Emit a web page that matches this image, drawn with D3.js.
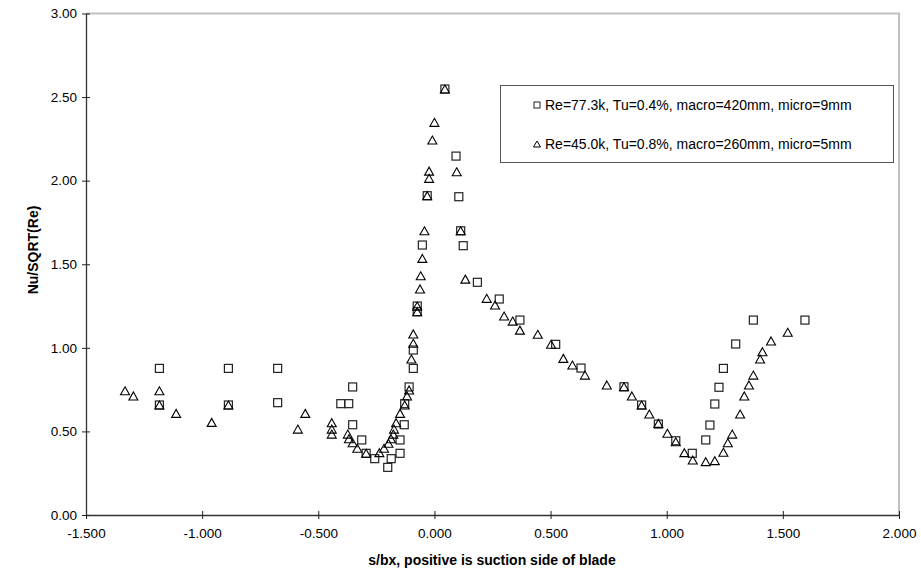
<!DOCTYPE html>
<html>
<head>
<meta charset="utf-8">
<script src="https://cdn.jsdelivr.net/npm/d3@7"></script>
<style>
  html, body { margin: 0; padding: 0; background: #fff; }
  svg { display: block; font-family: "Liberation Sans", Arial, sans-serif; }
</style>
</head>
<body>
<svg id="chart" width="921" height="572"></svg>
<script>
// ---- data ----
const xTicks = [-1.5, -1.0, -0.5, 0.0, 0.5, 1.0, 1.5, 2.0];
const yTicks = [0, 0.5, 1.0, 1.5, 2.0, 2.5, 3.0];
const seriesNames = [
  "Re=77.3k, Tu=0.4%, macro=420mm, micro=9mm",
  "Re=45.0k, Tu=0.8%, macro=260mm, micro=5mm"
];
// Re=77.3k (squares)
const squaresX = [-1.184,-1.184,-0.887,-0.887,-0.675,-0.675,-0.403,-0.369,-0.352,-0.352,-0.313,-0.294,-0.257,-0.201,-0.186,-0.148,-0.148,-0.130,-0.128,-0.109,-0.091,-0.091,-0.074,-0.074,-0.052,-0.031,0.045,0.093,0.105,0.113,0.124,0.185,0.279,0.368,0.522,0.631,0.816,0.892,0.964,1.039,1.110,1.168,1.186,1.207,1.225,1.244,1.297,1.373,1.595];
const squaresY = [0.877,0.658,0.877,0.658,0.877,0.672,0.666,0.666,0.766,0.540,0.449,0.369,0.337,0.285,0.337,0.369,0.449,0.540,0.666,0.766,0.877,0.987,1.250,1.216,1.615,1.910,2.548,2.147,1.904,1.700,1.611,1.392,1.292,1.166,1.021,0.879,0.767,0.658,0.544,0.444,0.369,0.449,0.538,0.664,0.764,0.877,1.023,1.166,1.166];
// Re=45.0k (triangles)
const trianglesX = [-1.332,-1.296,-1.184,-1.184,-1.112,-0.959,-0.887,-0.588,-0.556,-0.442,-0.442,-0.442,-0.373,-0.368,-0.352,-0.332,-0.294,-0.237,-0.217,-0.198,-0.187,-0.177,-0.174,-0.165,-0.148,-0.128,-0.118,-0.109,-0.099,-0.091,-0.091,-0.074,-0.074,-0.062,-0.059,-0.052,-0.043,-0.031,-0.023,-0.023,-0.009,0.000,0.045,0.096,0.113,0.133,0.225,0.261,0.300,0.337,0.368,0.445,0.502,0.555,0.594,0.648,0.742,0.816,0.850,0.892,0.925,0.964,1.003,1.039,1.076,1.112,1.168,1.207,1.244,1.263,1.282,1.316,1.334,1.354,1.373,1.402,1.412,1.449,1.521];
const trianglesY = [0.743,0.712,0.743,0.658,0.608,0.554,0.658,0.514,0.608,0.552,0.514,0.484,0.484,0.456,0.432,0.399,0.369,0.373,0.399,0.429,0.456,0.484,0.514,0.552,0.608,0.658,0.712,0.748,0.933,1.027,1.083,1.250,1.216,1.352,1.431,1.535,1.700,1.910,2.014,2.057,2.243,2.349,2.548,2.053,1.700,1.411,1.296,1.256,1.190,1.160,1.106,1.081,1.021,0.937,0.897,0.837,0.778,0.767,0.712,0.658,0.604,0.548,0.489,0.438,0.373,0.329,0.319,0.325,0.375,0.432,0.484,0.604,0.712,0.778,0.837,0.933,0.977,1.041,1.093];

// ---- layout ----
const svg = d3.select("#chart");
const L = 86, R = 899, T = 13.5, B = 515;
const x = d3.scaleLinear().domain([-1.5, 2.0]).range([L, R]);
const y = d3.scaleLinear().domain([0, 3.0]).range([B, T]);

svg.append("rect").attr("width", 921).attr("height", 572).attr("fill", "#fff");

// plot frame (top/right light grey)
svg.append("path")
  .attr("d", `M${L},${T}H${R}V${B}`)
  .attr("fill", "none").attr("stroke", "#c0c0c0").attr("stroke-width", 2);

// axes (hyphen-minus like the original)
const fx = v => d3.format(".3f")(v).replace("\u2212", "-");
const fy = v => d3.format(".2f")(v).replace("\u2212", "-");
const xAxis = d3.axisBottom(x).tickValues(xTicks).tickFormat(fx).tickSizeInner(4).tickSizeOuter(0);
const yAxis = d3.axisLeft(y).tickValues(yTicks).tickFormat(fy).tickSizeInner(4).tickSizeOuter(0);

const gx = svg.append("g").attr("transform", `translate(0,${B})`).call(xAxis);
const gy = svg.append("g").attr("transform", `translate(${L},0)`).call(yAxis);

[gx, gy].forEach(g => {
  g.select(".domain").attr("stroke", "#333").attr("stroke-width", 1.3);
  g.selectAll(".tick line").attr("stroke", "#222").attr("stroke-width", 1);
  g.selectAll(".tick text").attr("fill", "#000").style("font-size", "13.5px")
    .style("font-family", "'Liberation Sans', Arial, sans-serif");
});
// ticks cross the axis
gx.selectAll(".tick line").attr("y1", -4).attr("y2", 4);
gy.selectAll(".tick line").attr("x1", 4).attr("x2", -4);
gx.selectAll(".tick text").attr("y", 13);
gy.selectAll(".tick text").attr("x", -9);

// axis titles
svg.append("text")
  .attr("x", 492).attr("y", 565)
  .attr("text-anchor", "middle")
  .style("font-size", "14px").style("font-weight", "bold")
  .text("s/bx, positive is suction side of blade");
svg.append("text")
  .attr("transform", `translate(38,${250}) rotate(-90)`)
  .attr("text-anchor", "middle")
  .style("font-size", "14px").style("font-weight", "bold")
  .text("Nu/SQRT(Re)");

// symbols
const triPath = (cx, cy, w, h) =>
  `M${cx},${cy - h/2}L${cx + w/2},${cy + h/2}L${cx - w/2},${cy + h/2}Z`;

const squares = squaresX.map((v, i) => ({x: v, y: squaresY[i]}));
const triangles = trianglesX.map((v, i) => ({x: v, y: trianglesY[i]}));

svg.append("g").selectAll("rect").data(squares).join("rect")
  .attr("x", d => x(d.x) - 4).attr("y", d => y(d.y) - 4)
  .attr("width", 8).attr("height", 8)
  .attr("fill", "none").attr("stroke", "#222").attr("stroke-width", 1.2);

svg.append("g").selectAll("path").data(triangles).join("path")
  .attr("d", d => triPath(x(d.x), y(d.y), 9, 8))
  .attr("fill", "none").attr("stroke", "#000").attr("stroke-width", 1.1);

// legend
const lg = svg.append("g");
lg.append("rect").attr("x", 500.5).attr("y", 85.5).attr("width", 393).attr("height", 77)
  .attr("fill", "#fff").attr("stroke", "#555").attr("stroke-width", 1);
const ly = [105, 144];
lg.append("rect").attr("x", 534).attr("y", ly[0] - 3).attr("width", 6).attr("height", 6)
  .attr("fill", "none").attr("stroke", "#222").attr("stroke-width", 1);
lg.append("path").attr("d", triPath(537, ly[1], 7, 6))
  .attr("fill", "none").attr("stroke", "#000").attr("stroke-width", 1);
seriesNames.forEach((s, i) => {
  lg.append("text").attr("x", 545).attr("y", ly[i] + 5)
    .style("font-size", "14px").text(s);
});
</script>
</body>
</html>
